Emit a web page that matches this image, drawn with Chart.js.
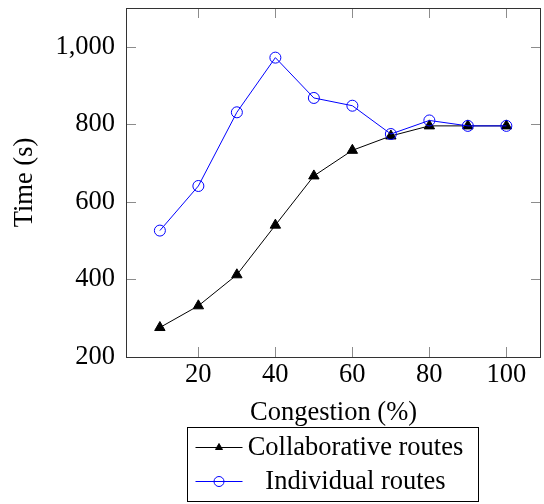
<!DOCTYPE html>
<html>
<head>
<meta charset="utf-8">
<script src="https://cdn.jsdelivr.net/npm/chart.js@4"></script>
<style>
  html, body { margin: 0; padding: 0; background: #fff; }
  #wrap { width: 544px; height: 504px; }
</style>
</head>
<body>
<div id="wrap"><canvas id="chart"></canvas></div>
<script>
const congestion = [10, 20, 30, 40, 50, 60, 70, 80, 90, 100];
const collaborative = [276, 332, 412, 540, 667, 733, 770, 796, 796, 796];
const individual = [526, 641, 831, 972, 868, 848, 775, 810, 796, 796];
const xTicks = [20, 40, 60, 80, 100];
const yTicks = [200, 400, 600, 800, 1000];

const FONT = "'Liberation Serif', 'DejaVu Serif', serif";
const FS = 26.5;

// inner tick marks on all four sides, like pgfplots
const innerTicks = {
  id: "innerTicks",
  afterDatasetsDraw(chart) {
    const { ctx, chartArea: a, scales } = chart;
    const len = 10;
    ctx.save();
    ctx.strokeStyle = "#8c8c8c";
    ctx.lineWidth = 1;
    ctx.beginPath();
    xTicks.forEach((v) => {
      const px = Math.round(scales.x.getPixelForValue(v)) + 0.5;
      ctx.moveTo(px, a.bottom); ctx.lineTo(px, a.bottom - len);
      ctx.moveTo(px, a.top); ctx.lineTo(px, a.top + len);
    });
    yTicks.forEach((v) => {
      const py = Math.round(scales.y.getPixelForValue(v)) + 0.5;
      ctx.moveTo(a.left, py); ctx.lineTo(a.left + len, py);
      ctx.moveTo(a.right, py); ctx.lineTo(a.right - len, py);
    });
    ctx.stroke();
    ctx.strokeStyle = "#333";
    ctx.strokeRect(Math.round(a.left) + 0.5, Math.round(a.top) + 0.5,
      Math.round(a.right - a.left) - 1, Math.round(a.bottom - a.top));
    ctx.restore();
  }
};

// boxed legend under the x title, with line + marker samples
const boxLegend = {
  id: "boxLegend",
  afterDraw(chart) {
    const { ctx, chartArea: a } = chart;
    const cx = (a.left + a.right) / 2;
    const w = 291, h = 74;
    const left = Math.round(cx - w / 2) - 0.5;
    const top = chart.height - h - 2.5;
    ctx.save();
    ctx.lineWidth = 1;
    ctx.strokeStyle = "#000";
    ctx.strokeRect(left, top, w, h);
    ctx.font = FS + "px " + FONT;
    ctx.textAlign = "center";
    ctx.textBaseline = "middle";
    chart.data.datasets.forEach((ds, i) => {
      const y = top + 20 + i * 34;
      const x0 = left + 8, x1 = left + 55;
      ctx.strokeStyle = ds.borderColor;
      ctx.lineWidth = ds.borderWidth;
      ctx.beginPath();
      ctx.moveTo(x0, y); ctx.lineTo(x1, y);
      ctx.stroke();
      ctx.fillStyle = ds.pointBackgroundColor;
      Chart.helpers.drawPoint(ctx, {
        pointStyle: ds.pointStyle,
        radius: ds.legendRadius,
        borderWidth: ds.borderWidth
      }, (x0 + x1) / 2, y);
      ctx.fillStyle = "#000";
      ctx.fillText(ds.label, left + 168, y + 1);
    });
    ctx.restore();
  }
};

const noPad = (s) => { s.paddingTop = 0; s.paddingBottom = 0; s.paddingLeft = 0; s.paddingRight = 0; };

new Chart(document.getElementById("chart"), {
  type: "line",
  data: {
    labels: congestion,
    datasets: [
      {
        label: "Collaborative routes",
        data: congestion.map((x, i) => ({ x, y: collaborative[i] })),
        borderColor: "#000",
        backgroundColor: "#000",
        pointBackgroundColor: "#000",
        pointBorderColor: "#000",
        borderWidth: 1,
        pointStyle: "triangle",
        pointRadius: 6,
        legendRadius: 4,
        order: 2
      },
      {
        label: "Individual routes",
        data: congestion.map((x, i) => ({ x, y: individual[i] })),
        borderColor: "#0000ff",
        backgroundColor: "rgba(0,0,0,0)",
        pointBackgroundColor: "rgba(0,0,0,0)",
        pointBorderColor: "#0000ff",
        borderWidth: 1,
        pointStyle: "circle",
        pointRadius: 5.5,
        legendRadius: 5,
        order: 1
      }
    ]
  },
  options: {
    responsive: true,
    maintainAspectRatio: false,
    animation: false,
    layout: { autoPadding: false, padding: { left: 0, right: 3, top: 8, bottom: 75 } },
    elements: { line: { tension: 0 } },
    plugins: { legend: { display: false }, tooltip: { enabled: false } },
    scales: {
      x: {
        type: "linear",
        min: 1.2,
        max: 109,
        afterBuildTicks: (s) => { s.ticks = xTicks.map((v) => ({ value: v })); },
        afterFit: (s) => { s.height = 72; noPad(s); },
        grid: { display: false, drawTicks: false },
        border: { display: false },
        ticks: { color: "#000", font: { family: FONT, size: FS }, padding: 2, maxRotation: 0 },
        title: { display: true, text: "Congestion (%)", color: "#000", font: { family: FONT, size: FS }, padding: 0 }
      },
      y: {
        min: 200,
        max: 1100,
        afterBuildTicks: (s) => { s.ticks = yTicks.map((v) => ({ value: v })); },
        afterFit: (s) => { s.width = 126; noPad(s); },
        grid: { display: false, drawTicks: false },
        border: { display: false },
        ticks: {
          color: "#000",
          font: { family: FONT, size: FS },
          padding: 11,
          callback: (v) => v.toLocaleString("en-US")
        },
        title: { display: true, text: "Time (s)", color: "#000", font: { family: FONT, size: FS }, padding: { top: 9, bottom: 0 } }
      }
    }
  },
  plugins: [innerTicks, boxLegend]
});
</script>
</body>
</html>
